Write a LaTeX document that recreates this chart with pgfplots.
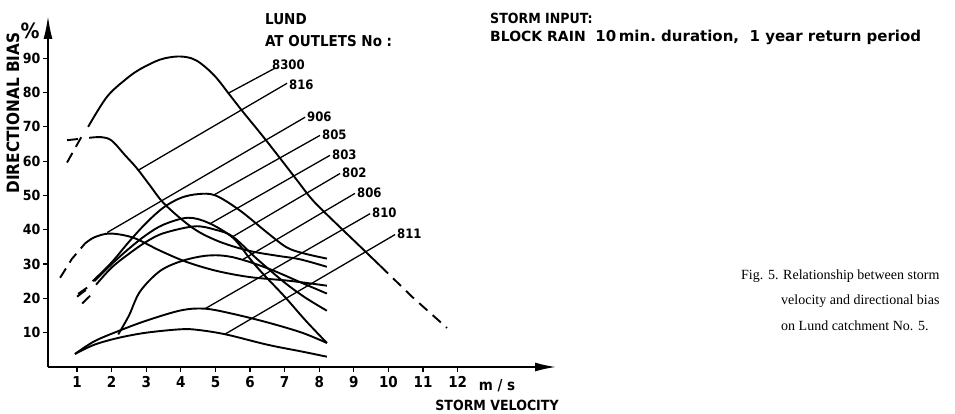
\documentclass[border=0pt]{standalone}
\usepackage{pgfplots}
\pgfplotsset{compat=1.18}
\usepackage{fontspec}
\usepackage{graphicx}
\usetikzlibrary{arrows.meta}
\setmainfont{Liberation Serif}
\newfontfamily\draft{DejaVu Sans Condensed}
\newfontfamily\draftw{DejaVu Sans}

\begin{document}
\begin{tikzpicture}[x=1pt,y=1pt]
\useasboundingbox (0pt,0pt) rectangle (955pt,413pt);
\begin{axis}[
  at={(48pt,46pt)}, anchor=south west,
  scale only axis, width=509pt, height=352pt,
  xmin=0.16, xmax=14.87, ymin=0, ymax=102.6,
  axis x line=bottom, axis y line=left,
  axis line style={line width=2.4pt},
  x axis line style={-{Latex[length=22pt,width=9pt]}},
  y axis line style={-{Latex[length=24pt,width=9pt]}},
  xtick={1,...,12}, ytick={10,20,...,90},
  tick align=outside, major tick length=5pt,
  tick style={line width=1.2pt, black},
  /pgf/number format/assume math mode=true,
  yticklabel style={font=\draft\bfseries\fontsize{14}{14}\selectfont, xshift=1pt},
  xticklabel style={font=\draft\bfseries\fontsize{15}{15}\selectfont, yshift=-1pt},
  curve/.style={black, line width=1.9pt, smooth, tension=0.55},
  dcurve/.style={black, line width=1.9pt, dash pattern=on 11pt off 7pt},
  lab/.style={black, line width=1.3pt},
]
% 8300
\addplot[dcurve] coordinates {(0.71,59.6) (1.15,67.5)};
\addplot[curve] coordinates {(1.32,70) (1.86,78.7) (2.4,83.8) (2.82,86.8) (3.4,89.6) (3.9,90.5) (4.3,90) (4.6,88.3) (5.0,84.6) (5.42,79.2) (5.8,74.3) (6.35,67.5) (6.87,60.8) (7.36,54.4) (7.82,48.5) (8.46,42.1) (9.09,36.0) (9.76,29.5)};
\addplot[dcurve] coordinates {(9.76,29.5) (10.71,20.2) (11.69,11.4)};
% 816
\addplot[dcurve] coordinates {(0.71,66.1) (1.15,66.6)};
\addplot[curve] coordinates {(1.35,66.8) (1.7,67) (2.0,66) (2.39,61.7) (2.73,57.9) (3.1,53) (3.48,48) (4.06,42.7) (4.55,39.2) (5.2,36.2) (6.0,33.8) (6.8,32.4) (7.44,31.4) (8.22,29.2)};
% 906
\addplot[dcurve] coordinates {(0.51,26) (0.85,31.5) (1.23,36)};
\addplot[curve] coordinates {(1.23,36) (1.5,37.8) (1.95,38.9) (2.62,37.7) (3.4,33.9) (4.17,30.6) (5.04,28) (6.0,26.2) (7.16,25.1) (8.22,23.7)};
% 805
\addplot[dcurve] coordinates {(1.03,21.3) (1.37,23.7)};
\addplot[curve] coordinates {(1.45,25) (2,30.5) (2.5,36.5) (3,42) (3.5,46.5) (4,49.3) (4.5,50.4) (5,50) (5.71,45.6) (6.49,39.2) (7.07,34.8) (7.6,33) (8.22,31.6)};
% 803
\addplot[dcurve] coordinates {(1.0,20.5) (1.3,22.8)};
\addplot[curve] coordinates {(1.5,25) (2,30) (2.5,34.5) (3,38.5) (3.5,41.5) (4.2,43.5) (4.8,42) (5.5,37.7) (6.0,31.5) (6.37,27.2) (7,20.5) (7.6,13.6) (8.22,7)};
% 802
\addplot[dcurve] coordinates {(1.15,18.5) (1.4,21)};
\addplot[curve] coordinates {(1.55,24) (2,29) (2.5,33) (3,36.5) (3.5,39) (4.4,41) (5,40) (5.5,38) (6.2,31.5) (7,24.6) (7.6,20.2) (8.22,16.4)};
% 806
\addplot[curve] coordinates {(2.19,9.5) (2.5,15) (2.82,22) (3.4,28) (4.06,31) (4.8,32.5) (5.5,32) (6.5,28.8) (7.5,24.5) (8.22,21.4)};
% 810
\addplot[curve] coordinates {(0.94,3.8) (1.5,7.5) (2.2,10.5) (3,13.5) (4,16.5) (4.7,17) (5.5,15.5) (6.5,13) (7.5,10) (8.22,7)};
% 811
\addplot[curve] coordinates {(0.94,3.8) (1.5,6.5) (2.2,8.5) (3,10) (4,11) (4.5,10.8) (5.3,9.5) (6.5,6.5) (7.5,4.5) (8.22,3)};
% label lines
\addplot[lab] coordinates {(5.37,79.8) (6.72,87.1)};
\addplot[lab] coordinates {(2.76,57.3) (7.07,82.7)};
\addplot[lab] coordinates {(1.87,39.2) (7.59,72.8)};
\addplot[lab] coordinates {(4.93,50) (8.02,67.5)};
\addplot[lab] coordinates {(4.85,41.8) (8.31,61.7)};
\addplot[lab] coordinates {(5.5,38) (8.6,56.4)};
\addplot[lab] coordinates {(5.8,31.4) (9.03,50.6)};
\addplot[lab] coordinates {(4.7,17) (9.47,44.7)};
\addplot[lab] coordinates {(5.28,9.6) (10.19,38.6)};
\end{axis}
% texts (picture coords: y = 413 - py)
\begin{scope}[every node/.style={inner sep=0pt, font=\draft\bfseries\fontsize{13}{13}\selectfont}]
\node[anchor=west] at (272pt,348pt) {8300};
\node[anchor=west] at (289pt,328pt) {816};
\node[anchor=west] at (307pt,296pt) {906};
\node[anchor=west] at (322pt,278pt) {805};
\node[anchor=west] at (332pt,258pt) {803};
\node[anchor=west] at (342pt,240pt) {802};
\node[anchor=west] at (357pt,220pt) {806};
\node[anchor=west] at (372pt,200pt) {810};
\node[anchor=west] at (397pt,179pt) {811};
\end{scope}
\node[anchor=west, inner sep=0pt, font=\draft\bfseries\fontsize{15}{16}\selectfont] at (265pt,394pt) {LUND};
\node[anchor=west, inner sep=0pt, font=\draft\bfseries\fontsize{15}{16}\selectfont] at (265pt,372pt) {AT OUTLETS No :};
\node[anchor=west, inner sep=0pt, font=\draft\bfseries\fontsize{14}{16}\selectfont] at (490pt,395pt) {STORM INPUT:};
\node[anchor=west, inner sep=0pt, font=\draftw\bfseries\fontsize{14}{16}\selectfont] at (490pt,376pt) {BLOCK RAIN\ \ {\fontsize{15}{15}\selectfont 10\,min.\ duration,\ \ 1 year return period}};
\node[rotate=90, inner sep=0pt, font=\draft\bfseries\fontsize{17}{17}\selectfont] at (13pt,300pt) {DIRECTIONAL BIAS};
\node[inner sep=0pt, font=\draft\bfseries\fontsize{21}{21}\selectfont] at (30pt,382pt) {\%};
\node[inner sep=0pt, font=\draft\bfseries\fontsize{15}{15}\selectfont] at (497pt,27pt) {m / s};
\node[inner sep=0pt, font=\draft\bfseries\fontsize{14}{14}\selectfont] at (497pt,8pt) {STORM VELOCITY};
\node[anchor=west, inner sep=0pt, font=\fontsize{14}{14}\selectfont] at (741pt,137pt) {Fig. 5. Relationship between storm};
\node[anchor=west, inner sep=0pt, font=\fontsize{14}{14}\selectfont] at (781pt,112pt) {velocity and directional bias};
\node[anchor=west, inner sep=0pt, font=\fontsize{14}{14}\selectfont] at (781pt,87pt) {on Lund catchment No. 5.};
\end{tikzpicture}
\end{document}
